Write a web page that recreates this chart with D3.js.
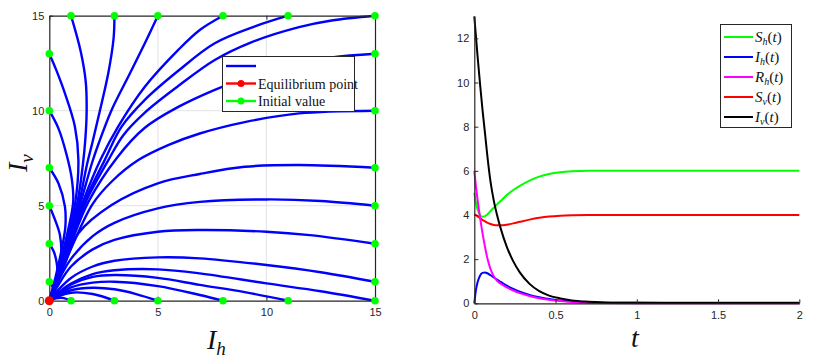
<!DOCTYPE html>
<html><head><meta charset="utf-8">
<script src="https://cdn.jsdelivr.net/npm/d3@7"></script>
<style>body{margin:0;background:#fff}svg{display:block}</style>
</head><body><svg id="c" width="828" height="358"></svg>
<script>
// ---------- Left panel: phase portrait (Ih, Iv) ----------
const phaseTicks = [0, 5, 10, 15];
const equilibrium = [0, 0];
// trajectories, each starting at its initial value
const trajU1  = [[1,15],[1.45,13.1],[1.68,11.5],[1.72,10],[1.66,8.5],[1.55,7.2],[1.3,5.2],[0.8,3.0],[0.38,1.3],[0,0]];
const trajU3  = [[3,15],[2.96,13.8],[2.72,12],[2.33,10],[1.98,8.3],[1.74,7.2],[1.38,5.2],[0.84,3.0],[0.4,1.33],[0,0]];
const trajU5  = [[5,15],[4.4,13.55],[3.64,11.8],[2.87,10.04],[2.28,8.3],[1.98,7.3],[1.45,5.2],[0.87,3.0],[0.41,1.35],[0,0]];
const trajU8  = [[8,15],[6.93,14.25],[5.94,13.2],[4.4,11.26],[3.17,9.16],[2.35,7.4],[1.55,5.2],[0.9,3.0],[0.42,1.35],[0,0]];
const trajU11 = [[11,15],[9.5,14.45],[7.62,13.55],[5.94,12.1],[4.4,10.57],[3.33,9.16],[2.55,7.4],[1.62,5.2],[0.93,3.0],[0.43,1.35],[0,0]];
const trajR15 = [[15,15],[13,14.75],[11.5,14.4],[9.3,13.6],[7.62,12.67],[5.94,11.3],[4.4,9.9],[3.4,8.7],[2.72,7.4],[1.68,5.2],[0.96,3.0],[0.44,1.35],[0,0]];
const trajR13 = [[15,13],[13,12.8],[11,12.35],[9,11.7],[7.62,11.1],[5.94,10.2],[4.4,9.1],[3.1,7.5],[1.8,5.2],[1.0,3.0],[0.45,1.35],[0,0]];
const trajR10 = [[15,10],[11.5,9.86],[9,9.4],[6.93,8.8],[5.5,8.2],[4.1,7.4],[2.9,6.3],[2.0,5.1],[1.1,3.0],[0.5,1.35],[0,0]];
const trajR7  = [[15,7],[11.5,7.14],[9,7.05],[6.93,6.67],[5,6.18],[2.87,5.04],[1.34,3.55],[0.72,1.97],[0.3,0.85],[0,0]];
const trajR5  = [[15,5],[12.5,5.25],[10,5.33],[6.93,5.2],[5,4.86],[3,4.1],[2,3.4],[1,2.2],[0.4,1.0],[0,0]];
const trajR3  = [[15,3],[12,3.45],[10,3.63],[6.93,3.72],[5,3.63],[3,3.2],[2,2.7],[1,1.8],[0.4,0.8],[0,0]];
const trajR1  = [[15,1],[12.5,1.5],[10,1.88],[6.93,2.23],[5,2.28],[3,2.1],[2,1.8],[1,1.2],[0.4,0.55],[0,0]];
const trajR0  = [[15,0],[12.5,0.5],[10,0.91],[6.93,1.44],[5,1.65],[3,1.6],[2,1.4],[1,0.9],[0.4,0.4],[0,0]];
const trajB11 = [[11,0],[9,0.45],[6.93,0.83],[5,1.2],[3,1.35],[2,1.25],[1,0.85],[0.4,0.38],[0,0]];
const trajB8  = [[8,0],[6.93,0.3],[5,0.77],[3,1.0],[2,0.95],[1,0.7],[0.4,0.32],[0,0]];
const trajB5  = [[5,0],[4,0.35],[3,0.6],[2,0.68],[1,0.55],[0.4,0.27],[0,0]];
const trajB3  = [[3,0],[2,0.35],[1,0.42],[0.4,0.22],[0,0]];
const trajB1  = [[1,0],[0.6,0.15],[0.3,0.13],[0,0]];
const trajL13 = [[0,13],[0.3,12.2],[0.72,10.91],[1.18,9.16],[1.34,7.4],[1.2,5.2],[0.76,3.0],[0.36,1.3],[0,0]];
const trajL10 = [[0,10],[0.42,9.07],[0.8,7.67],[1.03,6.45],[1.1,5.2],[0.72,3.0],[0.34,1.3],[0,0]];
const trajL7  = [[0,7],[0.42,6.18],[0.72,4.95],[0.74,3.9],[0.62,3.0],[0.3,1.3],[0,0]];
const trajL5  = [[0,5],[0.25,4.3],[0.49,3.46],[0.55,2.4],[0.43,1.4],[0.2,0.55],[0,0]];
const trajL3  = [[0,3],[0.2,2.6],[0.34,2.0],[0.37,1.35],[0.24,0.6],[0,0]];
const trajL1  = [[0,1],[0.15,0.75],[0.2,0.45],[0.1,0.15],[0,0]];
const trajectories = [trajU1,trajU3,trajU5,trajU8,trajU11,trajR15,trajR13,trajR10,trajR7,trajR5,trajR3,trajR1,trajR0,
  trajB11,trajB8,trajB5,trajB3,trajB1,trajL13,trajL10,trajL7,trajL5,trajL3,trajL1];
const phaseLegend = ["", "Equilibrium point", "Initial value"];

// ---------- Right panel: time series ----------
const tValues = [0,0.01,0.02,0.035,0.05,0.066,0.08,0.1,0.12,0.14,0.16,0.2,0.24,0.28,0.34,0.4,0.46,0.53,0.6,0.7,0.8,1.0,1.5,2.0];
const ShValues = [5.0,4.55,4.25,4.0,3.92,3.95,4.02,4.18,4.33,4.48,4.62,4.9,5.13,5.32,5.56,5.74,5.86,5.94,5.98,6.0,6.0,6.0,6.0,6.0];
const IhValues = [0,0.6,0.95,1.25,1.38,1.4,1.36,1.27,1.17,1.07,0.98,0.8,0.65,0.53,0.38,0.27,0.19,0.13,0.09,0.05,0.03,0.02,0.02,0.02];
const RhValues = [6.0,5.3,4.7,3.9,3.2,2.55,2.05,1.55,1.22,1.02,0.9,0.72,0.58,0.46,0.33,0.23,0.16,0.1,0.06,0.03,0.01,0,0,0];
const SvValues = [4.03,3.99,3.94,3.86,3.78,3.71,3.65,3.59,3.55,3.53,3.53,3.56,3.62,3.69,3.79,3.87,3.93,3.97,3.99,4.0,4.0,4.0,4.0,4.0];
const IvValues = [13.0,12.1,11.2,9.96,8.8,7.7,6.7,5.5,4.65,4.0,3.45,2.56,1.9,1.4,0.88,0.55,0.35,0.22,0.13,0.07,0.04,0.02,0.01,0.01];
const seriesNames = ["S","I","R","S","I"];
const seriesSubs = ["h","h","h","v","v"];
const seriesColors = ["#00ff00","#0000ff","#ff00ff","#ff0000","#000000"];
const tTicks = [0,0.5,1,1.5,2];
const tTickLabels = ["0","0.5","1","1.5","2"];
const yTicksR = [0,2,4,6,8,10,12];

const svg = d3.select("#c");
const axisCol = "#262626";
const tickFont = "'Liberation Sans', Arial, sans-serif";
const mathFont = "'Liberation Serif', 'DejaVu Serif', serif";

// ===== Left panel =====
const x1 = d3.scaleLinear().domain([0,15]).range([49.3,375]);
const y1 = d3.scaleLinear().domain([0,15]).range([300.7,15.7]);
const g1 = svg.append("g");
// grid
g1.selectAll(".gx").data(phaseTicks.slice(1,3)).join("line")
  .attr("x1",d=>x1(d)).attr("x2",d=>x1(d)).attr("y1",y1(0)).attr("y2",y1(15))
  .attr("stroke","#e3e3e3").attr("stroke-width",1);
g1.selectAll(".gy").data(phaseTicks.slice(1,3)).join("line")
  .attr("y1",d=>y1(d)).attr("y2",d=>y1(d)).attr("x1",x1(0)).attr("x2",x1(15))
  .attr("stroke","#e3e3e3").attr("stroke-width",1);
// trajectories
const line1 = d3.line().x(d=>x1(d[0])).y(d=>y1(d[1])).curve(d3.curveCatmullRom.alpha(0.5));
g1.selectAll(".traj").data(trajectories).join("path")
  .attr("d",line1).attr("fill","none").attr("stroke","#0000ff").attr("stroke-width",2.4);
// axes
const ax1b = g1.append("g").attr("transform",`translate(0,${y1(0)})`)
  .call(d3.axisBottom(x1).tickValues(phaseTicks).tickSizeInner(-4).tickSizeOuter(0).tickPadding(8));
const ax1l = g1.append("g").attr("transform",`translate(${x1(0)},0)`)
  .call(d3.axisLeft(y1).tickValues(phaseTicks).tickSizeInner(-4).tickSizeOuter(0).tickPadding(5));
const ax1t = g1.append("g").attr("transform",`translate(0,${y1(15)})`)
  .call(d3.axisTop(x1).tickValues(phaseTicks).tickSizeInner(-4).tickSizeOuter(0).tickFormat(""));
const ax1r = g1.append("g").attr("transform",`translate(${x1(15)},0)`)
  .call(d3.axisRight(y1).tickValues(phaseTicks).tickSizeInner(-4).tickSizeOuter(0).tickFormat(""));
[ax1b,ax1l,ax1t,ax1r].forEach(a=>{
  a.select(".domain").attr("stroke",axisCol).attr("stroke-width",1.2);
  a.selectAll(".tick line").attr("stroke",axisCol);
  a.selectAll(".tick text").attr("fill",axisCol).style("font-family",tickFont).style("font-size","11px");
});
// initial values
g1.selectAll(".init").data(trajectories.map(t=>t[0])).join("circle")
  .attr("cx",d=>x1(d[0])).attr("cy",d=>y1(d[1])).attr("r",3.8).attr("fill","#00ff00");
g1.append("circle").attr("cx",x1(equilibrium[0])).attr("cy",y1(equilibrium[1])).attr("r",4.5).attr("fill","#ff0000");
// labels
const lbl1 = g1.append("text").attr("x",207).attr("y",349).style("font-family",mathFont).style("font-style","italic").style("font-size","28px").attr("fill","#111");
lbl1.append("tspan").text("I");
lbl1.append("tspan").attr("dy",6).style("font-size","19px").text("h");
const lbl2 = g1.append("text").attr("transform","translate(27,172) rotate(-90)").style("font-family",mathFont).style("font-style","italic").style("font-size","28px").attr("fill","#111");
lbl2.append("tspan").text("I");
lbl2.append("tspan").attr("dy",6).style("font-size","19px").text("v");
// legend
const lg1 = g1.append("g");
lg1.append("rect").attr("x",222.5).attr("y",56.5).attr("width",132).attr("height",55).attr("fill","#fff").attr("stroke",axisCol).attr("stroke-width",1);
const legCols = ["#0000ff","#ff0000","#00ff00"];
phaseLegend.forEach((txt,i)=>{
  const yy = 66 + i*17.5;
  lg1.append("line").attr("x1",226).attr("x2",256).attr("y1",yy).attr("y2",yy).attr("stroke",legCols[i]).attr("stroke-width",2.4);
  if(i>0) lg1.append("circle").attr("cx",241).attr("cy",yy).attr("r",3.5).attr("fill",legCols[i]);
  lg1.append("text").attr("x",258).attr("y",yy+5).text(txt).style("font-family",mathFont).style("font-size","14px").attr("fill","#111");
});

// ===== Right panel =====
const x2 = d3.scaleLinear().domain([0,2]).range([474.3,799.3]);
const y2 = d3.scaleLinear().domain([0,13]).range([303.3,16.3]);
const g2 = svg.append("g");
const seriesData = [ShValues,IhValues,RhValues,SvValues,IvValues];
const line2 = d3.line().x((d,i)=>x2(tValues[i])).y(d=>y2(d)).curve(d3.curveMonotoneX);
const order = [0,3,1,2,4];
order.forEach(k=>{
  g2.append("path").datum(seriesData[k]).attr("d",line2).attr("fill","none")
    .attr("stroke",seriesColors[k]).attr("stroke-width",2);
});
const ax2b = g2.append("g").attr("transform",`translate(0,${y2(0)})`)
  .call(d3.axisBottom(x2).tickValues(tTicks).tickFormat((d,i)=>tTickLabels[i]).tickSizeInner(-4).tickSizeOuter(0).tickPadding(8));
const ax2l = g2.append("g").attr("transform",`translate(${x2(0)},0)`)
  .call(d3.axisLeft(y2).tickValues(yTicksR).tickSizeInner(-4).tickSizeOuter(0).tickPadding(5));
[ax2b,ax2l].forEach(a=>{
  a.select(".domain").attr("stroke",axisCol).attr("stroke-width",1.2);
  a.selectAll(".tick line").attr("stroke",axisCol);
  a.selectAll(".tick text").attr("fill",axisCol).style("font-family",tickFont).style("font-size","11px");
});
g2.append("text").attr("x",631).attr("y",347).text("t").style("font-family",mathFont).style("font-style","italic").style("font-size","28px").attr("fill","#111");
// legend
const lg2 = g2.append("g");
lg2.append("rect").attr("x",720.5).attr("y",24.5).attr("width",71).attr("height",103).attr("fill","#fff").attr("stroke",axisCol).attr("stroke-width",1);
seriesNames.forEach((nm,i)=>{
  const yy = 37 + i*20;
  lg2.append("line").attr("x1",724).attr("x2",753).attr("y1",yy).attr("y2",yy).attr("stroke",seriesColors[i]).attr("stroke-width",2);
  const t = lg2.append("text").attr("x",755).attr("y",yy+5).style("font-family",mathFont).style("font-size","15px").attr("fill","#111");
  t.append("tspan").style("font-style","italic").text(nm);
  t.append("tspan").attr("dy",3).style("font-style","italic").style("font-size","10px").text(seriesSubs[i]);
  t.append("tspan").attr("dy",-3).text("(");
  t.append("tspan").style("font-style","italic").text("t");
  t.append("tspan").text(")");
});
</script></body></html>
